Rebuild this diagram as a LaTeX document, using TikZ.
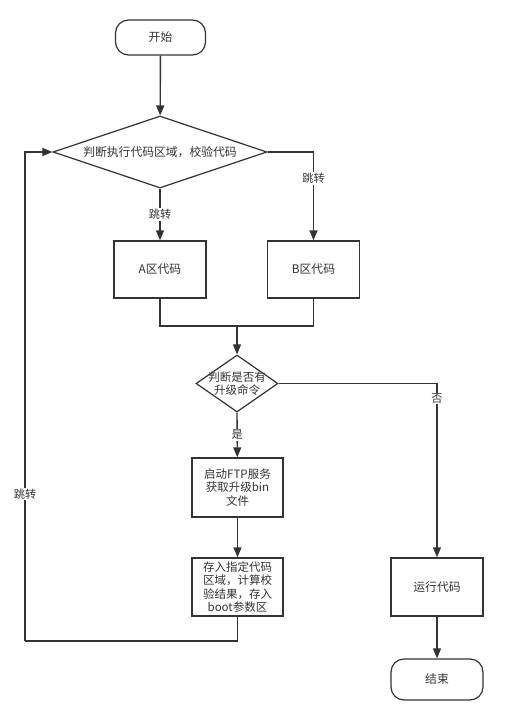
\documentclass[tikz,border=0pt]{standalone}
\usepackage{fontspec}
\setmainfont{Noto Sans CJK SC}
\usetikzlibrary{shapes.geometric,arrows.meta}
\definecolor{ln}{HTML}{333333}
\begin{document}
\begin{tikzpicture}[x=1pt,y=-1pt,
  every node/.style={font=\fontsize{11.8}{14}\selectfont, text=ln},
  proc/.style={draw=ln, line width=1.4pt, rectangle, minimum width=#1, align=center, inner sep=1pt},
  term/.style={draw=ln, line width=1.2pt, rectangle, rounded corners=13pt, minimum width=90pt, minimum height=35pt},
  conn/.style={draw=ln, line width=1.4pt},
  arr/.style={conn, -{Triangle[length=10pt,width=8pt]}},
  lbl/.style={fill=white, inner sep=1pt, font=\fontsize{11.2}{12}\selectfont}
]
\useasboundingbox (0,0) rectangle (504,721);
\node[term] (start) at (160.5,37.5) {开始};
\node[draw=ln, line width=1.2pt, diamond, minimum width=214pt, minimum height=72pt, inner sep=0pt] (d1) at (160,152) {};
\node at (160,152) {判断执行代码区域，校验代码};
\node[proc=92pt, minimum height=57pt] (A) at (160,269.5) {A区代码};
\node[proc=92pt, minimum height=57pt] (B) at (313.5,269.5) {B区代码};
\node[draw=ln, line width=1.2pt, diamond, minimum width=82pt, minimum height=57pt, inner sep=0pt] (d2) at (237,383.5) {};
\node[align=center, font=\fontsize{11.5}{13}\selectfont] at (237,383.5) {判断是否有\\升级命令};
\node[proc=91pt, minimum height=59pt, font=\fontsize{11.5}{13.5}\selectfont] (ftp) at (237.5,487.5) {启动FTP服务\\获取升级bin\\文件};
\node[proc=91pt, minimum height=58pt, font=\fontsize{11.5}{13.5}\selectfont] (store) at (237.5,587) {存入指定代码\\区域，计算校\\验结果，存入\\boot参数区};
\node[proc=92pt, minimum height=58pt] (run) at (437,587) {运行代码};
\node[term, minimum width=92pt, minimum height=41pt] (end) at (437,679.5) {结束};
\coordinate (m) at (237,326);
\coordinate (bl) at (25,641);

\draw[arr] (start) -- (d1);
\draw[arr] (d1.south) -- node[lbl, pos=0.5] {跳转} (A);
\draw[arr] (d1.east) -| node[lbl, pos=0.65] {跳转} (B);
\draw[conn] (A.south) |- (m);
\draw[conn] (B.south) |- (m);
\draw[arr] (m) -- (d2.north);
\draw[arr] (d2.south) -- node[lbl, pos=0.5] {是} (ftp);
\draw[arr] (d2.east) -| node[lbl, pos=0.543] {否} (run);
\draw[arr] (ftp) -- (store);
\draw[arr] (run) -- (end);
\draw[conn] (store.south) |- (bl);
\draw[arr] (bl) |- node[lbl, pos=0.15] {跳转} (d1.west);
\end{tikzpicture}
\end{document}
